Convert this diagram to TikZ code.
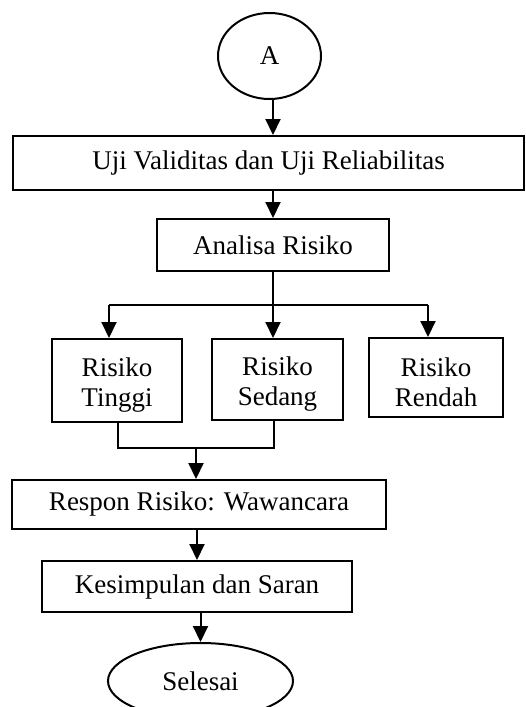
\documentclass[tikz,border=0pt]{standalone}
\usepackage{fontspec}
\setmainfont{Liberation Serif}
\usetikzlibrary{arrows.meta,shapes.geometric}
\newcommand{\topstrut}{\rule{0pt}{28pt}}
\begin{document}
\begin{tikzpicture}[x=1pt,y=-1pt,
  every node/.style={font=\fontsize{27}{30}\selectfont, inner sep=0pt, line width=2pt},
  box/.style={draw, rectangle, align=center},
  oval/.style={draw, ellipse},
  arr/.style={line width=2pt, -{Triangle[length=16pt,width=15pt]}},
  ln/.style={line width=2pt}]
\useasboundingbox (0,0) rectangle (525,707);
\node[oval, minimum width=103pt, minimum height=86pt] (A) at (269.5,56) {A};
\node[box, minimum width=511pt, minimum height=54pt] (b1) at (268.5,163) {Uji Validitas dan Uji Reliabilitas};
\node[box, minimum width=232pt, minimum height=52pt] (b2) at (273,245) {Analisa Risiko};
\node[box, minimum width=130pt, minimum height=83pt] (t) at (117,380.5) {\topstrut Risiko\\Tinggi};
\node[box, minimum width=131pt, minimum height=81pt] (s) at (277.5,379.5) {\topstrut Risiko\\Sedang};
\node[box, minimum width=134pt, minimum height=79pt] (r) at (436,377.5) {\topstrut Risiko\\Rendah};
\node[box, minimum width=374pt, minimum height=49pt] (resp) at (199,504.5) {Respon Risiko: Wawancara};
\node[box, minimum width=310pt, minimum height=51pt] (kes) at (197,586.5) {Kesimpulan dan Saran};
\node[oval, minimum width=185pt, minimum height=76pt] (end) at (200.5,681) {Selesai};
\coordinate (split) at (273,305);
\coordinate (sl) at (109,305);
\coordinate (sr) at (428,305);
\coordinate (tb) at (118,448);
\coordinate (sb) at (274,448);
\coordinate (mg) at (196,448);
\draw[arr] (A.south -| b2) -- (b1.north -| b2);
\draw[arr] (b1.south -| b2) -- (b2.north);
\draw[ln] (b2.south) -- (split);
\draw[ln] (sl) -- (sr);
\draw[arr] (sl) -- (sl |- t.north);
\draw[arr] (split) -- (split |- s.north);
\draw[arr] (sr) -- (sr |- r.north);
\draw[ln] (tb |- t.south) -- (tb) -- (sb) -- (sb |- s.south);
\draw[arr] (mg) -- (mg |- resp.north);
\draw[arr] (resp.south -| kes) -- (kes.north);
\draw[arr] (kes.south -| end) -- (end.north);
\end{tikzpicture}
\end{document}
